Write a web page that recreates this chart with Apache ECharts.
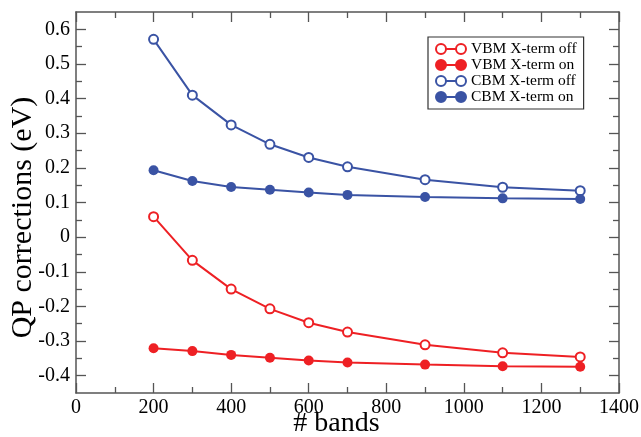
<!DOCTYPE html>
<html>
<head>
<meta charset="utf-8">
<script src="https://cdn.jsdelivr.net/npm/echarts@6/dist/echarts.min.js"></script>
<style>
html,body{margin:0;padding:0;background:#fff;}
#c{width:641px;height:437px;}
</style>
</head>
<body>
<div id="c"></div>
<script>
const bands = [200, 300, 400, 500, 600, 700, 900, 1100, 1300];
const vbmOff = [0.059, -0.067, -0.150, -0.207, -0.247, -0.274, -0.311, -0.334, -0.346];
const vbmOn  = [-0.321, -0.329, -0.340, -0.348, -0.356, -0.362, -0.368, -0.373, -0.374];
const cbmOff = [0.571, 0.410, 0.324, 0.268, 0.230, 0.203, 0.166, 0.144, 0.134];
const cbmOn  = [0.193, 0.162, 0.145, 0.137, 0.129, 0.122, 0.116, 0.112, 0.110];
const seriesNames = ['VBM X-term off', 'VBM X-term on', 'CBM X-term off', 'CBM X-term on'];
const xTitle = '# bands';
const yTitle = 'QP corrections (eV)';

const RED = '#ee2024';
const BLUE = '#3a53a4';
const AXIS = '#555555';
const FONT = 'Liberation Serif';

const yMin = -0.45, yMax = 0.65, yTickMin = -0.4, yTickMax = 0.6;
const G = {left: 76, right: 22, top: 12, bottom: 44};
const plotH = 437 - G.top - G.bottom;
const off = plotH * (yTickMin - yMin) / (yMax - yMin);

function pairs(ys) { return bands.map((b, i) => [b, ys[i]]); }

const iconPath = 'path://M0 5 A5 5 0 1 0 10 5 A5 5 0 1 0 0 5 Z M20 5 A5 5 0 1 0 30 5 A5 5 0 1 0 20 5 Z M10 5 L20 5';

const tickCommon = {show: true, inside: true, length: 10, lineStyle: {color: AXIS, width: 1.3}};
const minorCommon = {show: true, splitNumber: 2, length: 6, lineStyle: {color: AXIS, width: 1.3}};
const lineCommon = {show: true, onZero: false, lineStyle: {color: AXIS, width: 1.5}};

function mkSeries(name, ys, color, hollow) {
  return {
    name: name, type: 'line', xAxisIndex: 0, yAxisIndex: 0,
    data: pairs(ys),
    symbol: hollow ? 'emptyCircle' : 'circle',
    symbolSize: hollow ? 9 : 10,
    showAllSymbol: true,
    lineStyle: {color: color, width: 2},
    itemStyle: {color: color, borderColor: color, borderWidth: hollow ? 2 : 0},
    emphasis: {disabled: true},
    z: 3
  };
}

const chart = echarts.init(document.getElementById('c'), null, {renderer: 'canvas'});
chart.setOption({
  animation: false,
  backgroundColor: '#fff',
  textStyle: {fontFamily: FONT},
  grid: [
    {left: G.left, right: G.right, top: G.top, bottom: G.bottom, containLabel: false, outerBoundsMode: 'none'},
    {left: G.left, right: G.right, top: G.top + off, bottom: G.bottom + off, containLabel: false, outerBoundsMode: 'none'}
  ],
  legend: {
    orient: 'vertical', left: 428, top: 37,
    padding: [4, 7], itemGap: 0, itemWidth: 30, itemHeight: 10,
    backgroundColor: '#fff', borderColor: '#333', borderWidth: 1.2,
    textStyle: {fontFamily: FONT, fontSize: 15.5, color: '#000', lineHeight: 16},
    selectedMode: false,
    data: [
      {name: seriesNames[0], icon: iconPath, itemStyle: {color: '#fff', borderColor: RED, borderWidth: 2}},
      {name: seriesNames[1], icon: iconPath, itemStyle: {color: RED, borderColor: RED, borderWidth: 2}},
      {name: seriesNames[2], icon: iconPath, itemStyle: {color: '#fff', borderColor: BLUE, borderWidth: 2}},
      {name: seriesNames[3], icon: iconPath, itemStyle: {color: BLUE, borderColor: BLUE, borderWidth: 2}}
    ]
  },
  xAxis: [
    {
      type: 'value', gridIndex: 0, position: 'bottom', min: 0, max: 1400, interval: 200,
      axisLine: lineCommon, axisTick: tickCommon, minorTick: minorCommon,
      splitLine: {show: false},
      axisLabel: {color: '#000', fontSize: 20, margin: 5, fontFamily: FONT,
                  formatter: function (v) { return String(Math.round(v)); }},
      name: xTitle, nameLocation: 'middle', nameGap: 17, nameMoveOverlap: false,
      nameTextStyle: {color: '#000', fontSize: 28, fontFamily: FONT, verticalAlign: 'top', lineHeight: 28,
                      padding: [0, 22, 0, 0]}
    },
    {
      type: 'value', gridIndex: 0, position: 'top', min: 0, max: 1400, interval: 200,
      axisLine: lineCommon, axisTick: tickCommon, minorTick: minorCommon,
      splitLine: {show: false}, axisLabel: {show: false}
    },
    {
      type: 'value', gridIndex: 1, min: 0, max: 1400, show: false
    }
  ],
  yAxis: [
    {
      type: 'value', gridIndex: 0, position: 'left', min: yMin, max: yMax,
      axisLine: lineCommon, axisTick: {show: false}, axisLabel: {show: false}, splitLine: {show: false}
    },
    {
      type: 'value', gridIndex: 0, position: 'right', min: yMin, max: yMax,
      axisLine: lineCommon, axisTick: {show: false}, axisLabel: {show: false}, splitLine: {show: false}
    },
    {
      type: 'value', gridIndex: 1, position: 'left', min: yTickMin, max: yTickMax, interval: 0.1,
      axisLine: {show: false, onZero: false}, axisTick: tickCommon, minorTick: minorCommon, splitLine: {show: false},
      axisLabel: {
        color: '#000', fontSize: 20, margin: 6, fontFamily: FONT,
        formatter: function (v) { const r = Math.round(v * 10) / 10; return r === 0 ? '0' : r.toFixed(1); }
      },
      name: yTitle, nameLocation: 'middle', nameGap: 38, nameMoveOverlap: false,
      nameTextStyle: {color: '#000', fontSize: 30, fontFamily: FONT, padding: [0, 30, 0, 0]}
    },
    {
      type: 'value', gridIndex: 1, position: 'right', min: yTickMin, max: yTickMax, interval: 0.1,
      axisLine: {show: false, onZero: false}, axisTick: tickCommon, minorTick: minorCommon, splitLine: {show: false},
      axisLabel: {show: false}
    }
  ],
  series: [
    mkSeries(seriesNames[0], vbmOff, RED, true),
    mkSeries(seriesNames[1], vbmOn, RED, false),
    mkSeries(seriesNames[2], cbmOff, BLUE, true),
    mkSeries(seriesNames[3], cbmOn, BLUE, false)
  ]
});
</script>
</body>
</html>
